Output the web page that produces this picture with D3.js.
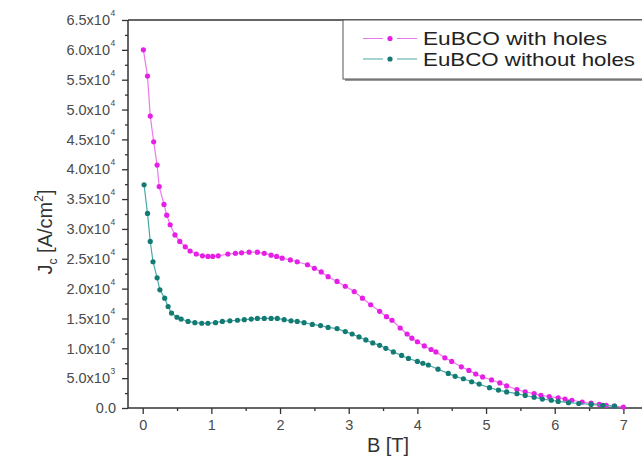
<!DOCTYPE html>
<html><head><meta charset="utf-8">
<script src="https://cdn.jsdelivr.net/npm/d3@7/dist/d3.min.js"></script>
<style>body{margin:0;background:#fff;}svg{display:block;font-family:"Liberation Sans",Arial,sans-serif;}</style>
</head><body>
<svg id="c" width="642" height="457"></svg>
<script>
// ---- data (B in T, Jc in A/cm^2) ----
const seriesNames = ["EuBCO with holes", "EuBCO without holes"];
const withHolesB = [0.01,0.07,0.11,0.16,0.21,0.24,0.31,0.35,0.40,0.47,0.54,0.62,0.69,0.78,0.87,0.95,1.02,1.10,1.24,1.35,1.44,1.55,1.67,1.77,1.87,1.95,2.03,2.15,2.25,2.40,2.50,2.60,2.70,2.83,2.95,3.08,3.20,3.32,3.45,3.55,3.63,3.75,3.85,3.92,4.00,4.10,4.20,4.27,4.40,4.50,4.64,4.75,4.85,4.95,5.08,5.20,5.30,5.45,5.57,5.70,5.80,5.92,6.05,6.15,6.25,6.40,6.53,6.65,6.75,6.87,7.00];
const withHolesJ = [60000,55600,48900,44600,40700,37100,34100,32300,30700,29000,27900,27000,26300,25800,25500,25400,25400,25500,25800,25900,26000,26100,26100,25900,25600,25400,25100,24800,24500,24000,23400,22800,22000,21200,20400,19500,18400,17300,16200,15300,14700,13400,12400,11700,11100,10400,9800,9400,8400,7800,6900,6300,5700,5200,4700,4200,3700,3100,2700,2400,2100,1900,1700,1500,1300,1000,800,600,450,300,150];
const withoutHolesB = [0.02,0.07,0.11,0.15,0.21,0.25,0.32,0.37,0.42,0.50,0.56,0.66,0.76,0.86,0.95,1.06,1.16,1.27,1.38,1.48,1.58,1.67,1.77,1.87,1.96,2.06,2.16,2.25,2.35,2.47,2.59,2.70,2.83,2.95,3.05,3.15,3.25,3.35,3.45,3.54,3.65,3.77,3.87,4.00,4.08,4.16,4.30,4.45,4.55,4.67,4.79,4.90,5.05,5.18,5.30,5.45,5.57,5.70,5.82,5.95,6.05,6.20,6.35,6.53,6.70,6.87];
const withoutHolesJ = [37400,32600,27900,24500,21800,19800,18400,17000,15900,15200,14900,14500,14300,14200,14200,14300,14500,14600,14700,14800,14900,15000,15000,15000,15000,14800,14600,14500,14300,14000,13800,13500,13300,12800,12400,11900,11400,10900,10500,10000,9400,8800,8300,7800,7500,7200,6500,5800,5300,4900,4400,4000,3400,3000,2700,2400,2100,1800,1500,1300,1100,900,750,600,450,300];
const xTicks = [0,1,2,3,4,5,6,7];
const yTickValues = [0,5000,10000,15000,20000,25000,30000,35000,40000,45000,50000,55000,60000,65000];
const yTickMant = ["0.0","5.0","1.0","1.5","2.0","2.5","3.0","3.5","4.0","4.5","5.0","5.5","6.0","6.5"];
const yTickExp  = ["","3","4","4","4","4","4","4","4","4","4","4","4","4"];
const xTitle = "B [T]";

// ---- layout ----
const svg = d3.select("#c");
const x = d3.scaleLinear().domain([-0.214, 7.3]).range([128, 644]);
const y = d3.scaleLinear().domain([0, 65000]).range([408, 20]);
const tickCol = "#4a4a4a";

// frame top line
svg.append("line").attr("x1",128).attr("x2",642).attr("y1",y(65000)).attr("y2",y(65000))
  .attr("stroke","#333").attr("stroke-width",1.3);

// x axis
const gx = svg.append("g").attr("transform",`translate(0,${y(0)})`);
gx.call(d3.axisBottom(x).tickValues(d3.range(0,7.01,0.5)).tickSize(3).tickFormat(""));
gx.selectAll(".tick line").attr("stroke","#333").attr("stroke-width",1.3)
  .attr("y2", d => Number.isInteger(d) ? 6 : 3);
gx.select(".domain").attr("stroke","#333").attr("stroke-width",1.5).attr("d",`M128,0H642`);
gx.selectAll(".tick").filter(d => Number.isInteger(d)).append("text")
  .attr("y",22).attr("text-anchor","middle").attr("fill",tickCol)
  .style("font-size","14.5px").text(d => d);

// y axis
const gy = svg.append("g").attr("transform",`translate(128,0)`);
gy.call(d3.axisLeft(y).tickValues(d3.range(0,65001,2500)).tickSize(3).tickFormat(""));
gy.selectAll(".tick line").attr("stroke","#333").attr("stroke-width",1.3)
  .attr("x2", d => d % 5000 === 0 ? -6 : -3);
gy.select(".domain").attr("stroke","#333").attr("stroke-width",1.5).attr("d",`M0,${y(0)}V${y(65000)}`);
yTickValues.forEach((v,i) => {
  const t = svg.append("text").attr("x", yTickExp[i] ? 110 : 116).attr("y", y(v)).attr("dy","0.36em")
    .attr("text-anchor","end").attr("fill",tickCol).style("font-size","14.5px");
  if (yTickExp[i]) {
    t.append("tspan").text(yTickMant[i] + "x10");
    svg.append("text").attr("x",110.5).attr("y",y(v)-4).attr("fill",tickCol)
      .style("font-size","8.5px").text(yTickExp[i]);
  } else t.text(yTickMant[i]);
});

// axis titles
svg.append("text").attr("x",388).attr("y",452).attr("text-anchor","middle").attr("fill","#333")
  .style("font-size","20px").text(xTitle);
const yt = svg.append("text").attr("transform","translate(52,232) rotate(-90)")
  .attr("text-anchor","middle").attr("fill","#333").style("font-size","20px");
yt.append("tspan").text("J");
yt.append("tspan").attr("dy",5).style("font-size","12px").text("c");
yt.append("tspan").attr("dy",-5).text(" [A/cm");
yt.append("tspan").attr("dy",-9).style("font-size","12px").text("2");
yt.append("tspan").attr("dy",9).text("]");

// series
const series = [
  {B: withHolesB, J: withHolesJ, line: "#ea7aea", mark: "#e61ee6"},
  {B: withoutHolesB, J: withoutHolesJ, line: "#46aaa4", mark: "#137b74"}
];
const lineGen = d3.line().x(d => x(d[0])).y(d => y(d[1]));
series.forEach(s => {
  const pts = s.B.map((b,i) => [b, s.J[i]]);
  svg.append("path").datum(pts).attr("d", lineGen).attr("fill","none")
    .attr("stroke", s.line).attr("stroke-width",1.2);
  svg.append("g").selectAll("circle").data(pts).join("circle")
    .attr("cx", d => x(d[0])).attr("cy", d => y(d[1])).attr("r",2.6).attr("fill", s.mark);
});

// legend
const lg = svg.append("g");
lg.append("rect").attr("x",345).attr("y",22).attr("width",310).attr("height",59).attr("fill","#999");
lg.append("rect").attr("x",343).attr("y",20).attr("width",310).attr("height",59)
  .attr("fill","#fff").attr("stroke","#555").attr("stroke-width",1);
const legendWidths = [184, 212];
seriesNames.forEach((n,i) => {
  const cy = 38.5 + i*20.5, s = series[i];
  lg.append("line").attr("x1",363).attr("x2",417).attr("y1",cy).attr("y2",cy).attr("stroke",s.line).attr("stroke-width",1.2);
  lg.append("rect").attr("x",383).attr("y",cy-2.5).attr("width",14).attr("height",5).attr("fill","#fff");
  lg.append("circle").attr("cx",390).attr("cy",cy).attr("r",2.6).attr("fill",s.mark);
  lg.append("text").attr("x",423).attr("y",cy).attr("dy","0.36em").attr("fill","#222")
    .attr("textLength", legendWidths[i]).attr("lengthAdjust","spacingAndGlyphs")
    .style("font-size","19px").text(n);
});
</script>
</body></html>
